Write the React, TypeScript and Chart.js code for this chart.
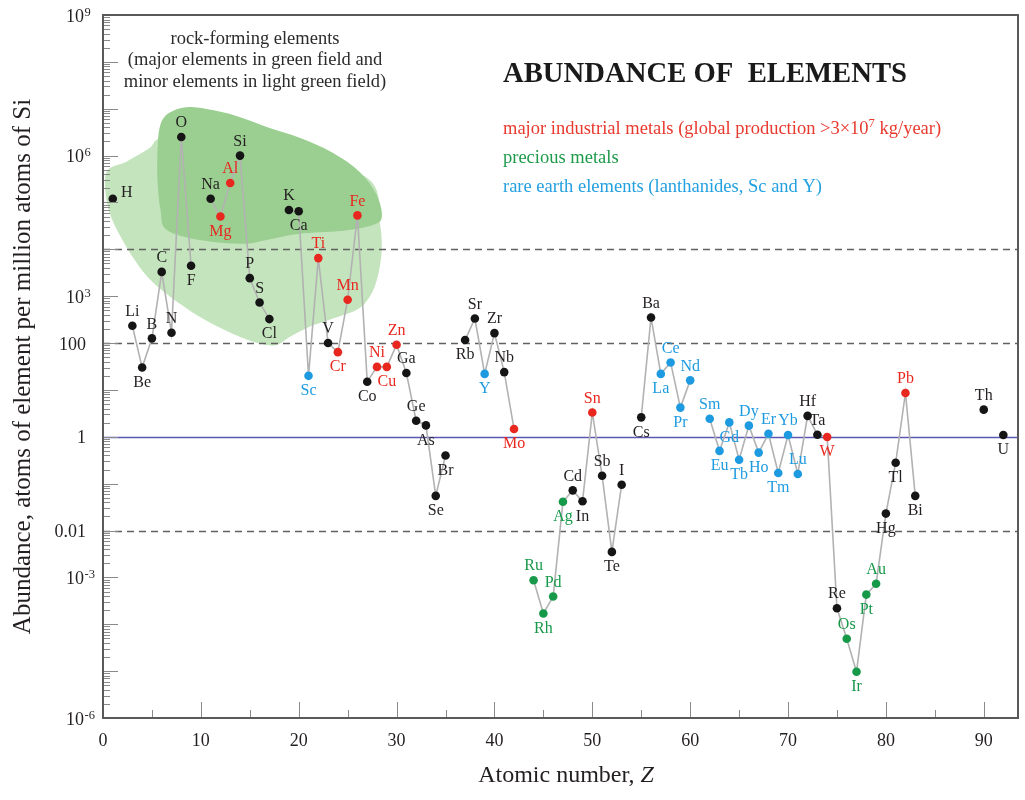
import React, { useEffect, useRef } from "react";
import { Chart, registerables } from "chart.js";

Chart.register(...registerables);

const SERIF = '"Liberation Serif", "Times New Roman", serif';

// ---- data ----
const elementSymbols = [
  "H", "Li", "Be", "B", "C", "N", "O", "F",
  "Na", "Mg", "Al", "Si", "P", "S", "Cl",
  "K", "Ca", "Sc", "Ti", "V", "Cr", "Mn", "Fe", "Co", "Ni", "Cu", "Zn", "Ga", "Ge", "As", "Se", "Br",
  "Rb", "Sr", "Y", "Zr", "Nb", "Mo",
  "Ru", "Rh", "Pd", "Ag", "Cd", "In", "Sn", "Sb", "Te", "I",
  "Cs", "Ba", "La", "Ce", "Pr", "Nd",
  "Sm", "Eu", "Gd", "Tb", "Dy", "Ho", "Er", "Tm", "Yb", "Lu", "Hf", "Ta", "W", "Re", "Os", "Ir", "Pt", "Au", "Hg", "Tl", "Pb", "Bi",
  "Th", "U",
];
const atomicNumbers = [
  1, 3, 4, 5, 6, 7, 8, 9,
  11, 12, 13, 14, 15, 16, 17,
  19, 20, 21, 22, 23, 24, 25, 26, 27, 28, 29, 30, 31, 32, 33, 34, 35,
  37, 38, 39, 40, 41, 42,
  44, 45, 46, 47, 48, 49, 50, 51, 52, 53,
  55, 56, 57, 58, 59, 60,
  62, 63, 64, 65, 66, 67, 68, 69, 70, 71, 72, 73, 74, 75, 76, 77, 78, 79, 80, 81, 82, 83,
  90, 92,
];
const abundances = [
  1.2e5, 234, 30, 126, 3300, 166, 2.5e6, 4450,
  1.2e5, 5.0e4, 2.6e5, 1.0e6, 2430, 735, 325,
  6.9e4, 6.5e4, 20, 6500, 100, 64, 840, 5.3e4, 15, 31, 31, 92, 23, 2.2, 1.75, 0.055, 0.4,
  116, 335, 22, 163, 24, 1.47,
  8.7e-4, 1.7e-4, 3.9e-4, 0.041, 0.072, 0.042, 3.3, 0.148, 3.5e-3, 0.095,
  2.6, 352, 22, 38.6, 4.2, 16,
  2.43, 0.5, 2.03, 0.325, 1.73, 0.46, 1.16, 0.169, 1.09, 0.161, 2.8, 1.11, 0.99, 2.2e-4, 4.9e-5, 9.7e-6, 4.3e-4, 7.3e-4, 0.023, 0.28, 8.6, 0.055,
  3.8, 1.09,
];
// a = label above, b = below, r = right
const labelSides = (
  "r a b a a a a b " +
  "a b a a a a b " +
  "a b b a a b a a b a b a a a b b b " +
  "b a b a a b " +
  "a b a b a b a a b a " +
  "b a b a b a " +
  "a b b b a b a b a a a a b a a b b a b b a b " +
  "a b"
).trim().split(" ");

const industrialMetals = ["Mg", "Al", "Ti", "Cr", "Mn", "Fe", "Ni", "Cu", "Zn", "Mo", "Sn", "W", "Pb"];
const preciousMetals = ["Ru", "Rh", "Pd", "Ag", "Os", "Ir", "Pt", "Au"];
const rareEarths = ["Sc", "Y", "La", "Ce", "Pr", "Nd", "Sm", "Eu", "Gd", "Tb", "Dy", "Ho", "Er", "Tm", "Yb", "Lu"];

const xTickValues = [0, 10, 20, 30, 40, 50, 60, 70, 80, 90];
const yTickValues = [1e-6, 1e-3, 0.01, 1, 100, 1e3, 1e6, 1e9];
const yTickBases = ["10", "10", "0.01", "1", "100", "10", "10", "10"];
const yTickExponents = ["-6", "-3", "", "", "", "3", "6", "9"];
const dashedLevels = [1e4, 100, 0.01];
const unityLevel = 1;

// outlines of the fields as [Z, log10(abundance)]
const majorFieldOutline: [number, number][] = [
  [5.78, 6.59], [6.49, 6.87], [8.13, 7.02], [9.87, 7.02], [13.24, 6.87], [16.72, 6.61],
  [20.09, 6.38], [23.47, 6.06], [26.23, 5.65], [27.97, 5.16], [28.48, 4.67], [27.25, 4.5],
  [24.18, 4.39], [20.09, 4.33], [16.72, 4.2], [14.26, 4.12], [9.87, 4.2], [6.49, 4.42],
  [5.88, 4.84], [5.57, 5.48], [5.57, 6.12],
];
const minorFieldOutline: [number, number][] = [
  [0.36, 5.65], [2.4, 5.87], [4.75, 6.16], [5.78, 6.38], [9.87, 6.76], [20.09, 6.12],
  [27.25, 5.48], [28.27, 4.59], [28.48, 3.99], [28.07, 3.41], [27.25, 2.99], [25.92, 2.71],
  [23.16, 2.5], [21.11, 2.35], [19.07, 2.13], [17.74, 1.96], [16.0, 1.99], [13.24, 2.2],
  [9.87, 2.56], [6.49, 3.05], [4.04, 3.54], [1.69, 4.31], [0.46, 4.95],
];

const RED = "#e8271f";
const GREEN = "#17994a";
const BLUE = "#1e9be0";
const BLACK = "#151515";
const TEXT = "#231f20";

function colorOf(sym: string) {
  if (industrialMetals.includes(sym)) return RED;
  if (preciousMetals.includes(sym)) return GREEN;
  if (rareEarths.includes(sym)) return BLUE;
  return BLACK;
}
function labelColorOf(sym: string) {
  const c = colorOf(sym);
  return c === BLACK ? TEXT : c;
}

function smoothClosed(ctx: CanvasRenderingContext2D, pts: number[][]) {
  const n = pts.length;
  ctx.beginPath();
  ctx.moveTo(pts[0][0], pts[0][1]);
  for (let i = 0; i < n; i++) {
    const p0 = pts[(i - 1 + n) % n];
    const p1 = pts[i];
    const p2 = pts[(i + 1) % n];
    const p3 = pts[(i + 2) % n];
    ctx.bezierCurveTo(
      p1[0] + (p2[0] - p0[0]) / 6, p1[1] + (p2[1] - p0[1]) / 6,
      p2[0] - (p3[0] - p1[0]) / 6, p2[1] - (p3[1] - p1[1]) / 6,
      p2[0], p2[1]
    );
  }
  ctx.closePath();
}

type Part = { t: string; size: number; dy?: number; bold?: boolean; italic?: boolean };
function drawParts(ctx: CanvasRenderingContext2D, parts: Part[], x: number, y: number, color: string, align: "left" | "center") {
  const fontOf = (p: Part) => `${p.italic ? "italic " : ""}${p.bold ? "bold " : ""}${p.size}px ${SERIF}`;
  let total = 0;
  for (const p of parts) { ctx.font = fontOf(p); total += ctx.measureText(p.t).width; }
  let cx = align === "center" ? x - total / 2 : x;
  ctx.fillStyle = color;
  ctx.textAlign = "left";
  ctx.textBaseline = "alphabetic";
  for (const p of parts) {
    ctx.font = fontOf(p);
    ctx.fillText(p.t, cx, y + (p.dy || 0));
    cx += ctx.measureText(p.t).width;
  }
}

const decorPlugin = {
  id: "decor",
  beforeDatasetsDraw(chart: any) {
    const { ctx, chartArea: a } = chart;
    const xs = chart.scales.x;
    const ys = chart.scales.y;
    const toPx = (o: [number, number][]) => o.map(([z, l]) => [xs.getPixelForValue(z), ys.getPixelForValue(Math.pow(10, l))]);
    ctx.save();
    ctx.beginPath();
    ctx.rect(a.left, a.top, a.right - a.left, a.bottom - a.top);
    ctx.clip();
    ctx.fillStyle = "#c4e4bd";
    smoothClosed(ctx, toPx(minorFieldOutline));
    ctx.fill();
    ctx.fillStyle = "#9bcf91";
    smoothClosed(ctx, toPx(majorFieldOutline));
    ctx.fill();

    ctx.strokeStyle = "#606060";
    ctx.lineWidth = 1.6;
    ctx.setLineDash([7, 5]);
    for (const v of dashedLevels) {
      const y = Math.round(ys.getPixelForValue(v)) + 0.5;
      ctx.beginPath();
      ctx.moveTo(a.left, y);
      ctx.lineTo(a.right, y);
      ctx.stroke();
    }
    ctx.setLineDash([]);
    ctx.strokeStyle = "#5a57b5";
    ctx.lineWidth = 1.6;
    const yu = Math.round(ys.getPixelForValue(unityLevel)) + 0.5;
    ctx.beginPath();
    ctx.moveTo(a.left, yu);
    ctx.lineTo(a.right, yu);
    ctx.stroke();
    ctx.restore();
  },
  afterDatasetsDraw(chart: any) {
    const { ctx, chartArea: a } = chart;
    const xs = chart.scales.x;
    const ys = chart.scales.y;
    ctx.save();

    // element labels
    ctx.font = `16px ${SERIF}`;
    ctx.textAlign = "center";
    ctx.textBaseline = "middle";
    elementSymbols.forEach((s, i) => {
      const px = xs.getPixelForValue(atomicNumbers[i]);
      const py = ys.getPixelForValue(abundances[i]);
      const side = labelSides[i];
      ctx.fillStyle = labelColorOf(s);
      if (side === "a") ctx.fillText(s, px, py - 14);
      else if (side === "b") ctx.fillText(s, px, py + 15);
      else ctx.fillText(s, px + 14, py - 6);
    });

    // tick marks (inward)
    ctx.strokeStyle = "#8a8a8a";
    ctx.lineWidth = 1;
    for (let d = -6; d <= 9; d++) {
      for (let k = 1; k <= 9; k++) {
        const v = k * Math.pow(10, d);
        if (v > 1e9 * 1.0001) break;
        const y = Math.round(ys.getPixelForValue(v)) + 0.5;
        const len = k === 1 ? 15 : 7;
        ctx.beginPath();
        ctx.moveTo(a.left, y);
        ctx.lineTo(a.left + len, y);
        ctx.stroke();
      }
    }
    for (let z = 5; z < 93.5; z += 5) {
      const x = Math.round(xs.getPixelForValue(z)) + 0.5;
      const len = z % 10 === 0 ? 16 : 8;
      ctx.beginPath();
      ctx.moveTo(x, a.bottom);
      ctx.lineTo(x, a.bottom - len);
      ctx.stroke();
    }

    // frame
    ctx.strokeStyle = "#5a5a5a";
    ctx.lineWidth = 2;
    ctx.strokeRect(a.left, a.top, a.right - a.left, a.bottom - a.top);

    // y tick labels
    yTickValues.forEach((v, i) => {
      const py = ys.getPixelForValue(v);
      const base = yTickBases[i];
      const exp = yTickExponents[i];
      ctx.textBaseline = "alphabetic";
      ctx.fillStyle = TEXT;
      ctx.font = `18px ${SERIF}`;
      if (exp) {
        ctx.textAlign = "right";
        ctx.fillText(base, 84, py + 6.5);
        ctx.textAlign = "left";
        ctx.font = `12.5px ${SERIF}`;
        ctx.fillText(exp, 84.5, py + 0.5);
      } else {
        ctx.textAlign = "right";
        ctx.fillText(base, 86, py + 6.5);
      }
    });

    // annotations
    const rock = [
      "rock-forming elements",
      "(major elements in green field and",
      "minor elements in light green field)",
    ];
    ctx.font = `18.5px ${SERIF}`;
    ctx.fillStyle = "#2b2b2b";
    ctx.textAlign = "center";
    ctx.textBaseline = "middle";
    rock.forEach((t, i) => ctx.fillText(t, 255, 39 + i * 21.5));

    drawParts(ctx, [{ t: "ABUNDANCE OF  ELEMENTS", size: 28.7, bold: true }], 503, 82, "#1a1a1a", "left");
    drawParts(ctx, [
      { t: "major industrial metals (global production >3×10", size: 18.5 },
      { t: "7", size: 12.5, dy: -7.5 },
      { t: " kg/year)", size: 18.5 },
    ], 503, 134, "#e8392e", "left");
    drawParts(ctx, [{ t: "precious metals", size: 18.5 }], 503, 163, "#1f9a4b", "left");
    drawParts(ctx, [{ t: "rare earth elements (lanthanides, Sc and Y)", size: 18.5 }], 503, 192, "#23a0e0", "left");

    // x axis title
    drawParts(ctx, [
      { t: "Atomic number, ", size: 24 },
      { t: "Z", size: 24, italic: true },
    ], 566, 782, TEXT, "center");

    ctx.restore();
  },
};

export default function App() {
  const ref = useRef<HTMLCanvasElement>(null);
  useEffect(() => {
    const canvas = ref.current;
    if (!canvas) return;
    const lineData: any[] = [];
    for (let z = 1; z <= 92; z++) {
      const i = atomicNumbers.indexOf(z);
      lineData.push({ x: z, y: i >= 0 ? abundances[i] : null, s: i >= 0 ? elementSymbols[i] : "" });
    }
    const chart = new Chart(canvas, {
      type: "line",
      data: {
        datasets: [
          {
            data: lineData,
            borderColor: "#b2b2b2",
            borderWidth: 1.6,
            pointRadius: 4.3,
            pointHoverRadius: 4.3,
            pointBorderWidth: 0,
            pointBackgroundColor: (c: any) => colorOf(c.raw ? c.raw.s : ""),
            pointBorderColor: (c: any) => colorOf(c.raw ? c.raw.s : ""),
            spanGaps: false,
            tension: 0,
            fill: false,
          },
        ],
      },
      options: {
        animation: false,
        responsive: false,
        devicePixelRatio: 1,
        layout: { padding: { top: 15, right: 7, left: 0, bottom: 0 } },
        plugins: { legend: { display: false }, tooltip: { enabled: false } },
        scales: {
          x: {
            type: "linear",
            position: "bottom",
            min: 0,
            max: 93.5,
            grid: { display: false, drawTicks: false },
            border: { display: false },
            ticks: {
              color: TEXT,
              font: { family: SERIF, size: 18 },
              padding: 12,
              maxRotation: 0,
              callback: (v: any) => String(v),
            },
            afterBuildTicks: (s: any) => {
              s.ticks = xTickValues.map((v) => ({ value: v }));
            },
            afterFit: (s: any) => {
              s.height = 82;
            },
          },
          y: {
            type: "logarithmic",
            min: 1e-6,
            max: 1e9,
            grid: { display: false, drawTicks: false },
            border: { display: false },
            ticks: { display: false },
            title: {
              display: true,
              text: "Abundance, atoms of element per million atoms of Si",
              color: TEXT,
              font: { family: SERIF, size: 25 },
              padding: { top: 8, bottom: 0 },
            },
            afterFit: (s: any) => {
              s.width = 103;
            },
          },
        },
      },
      plugins: [decorPlugin],
    } as any);
    return () => chart.destroy();
  }, []);
  return (
    <div style={{ position: "absolute", left: 0, top: 0, width: 1025, height: 800, background: "#fff" }}>
      <canvas ref={ref} width={1025} height={800} style={{ display: "block" }} />
    </div>
  );
}
